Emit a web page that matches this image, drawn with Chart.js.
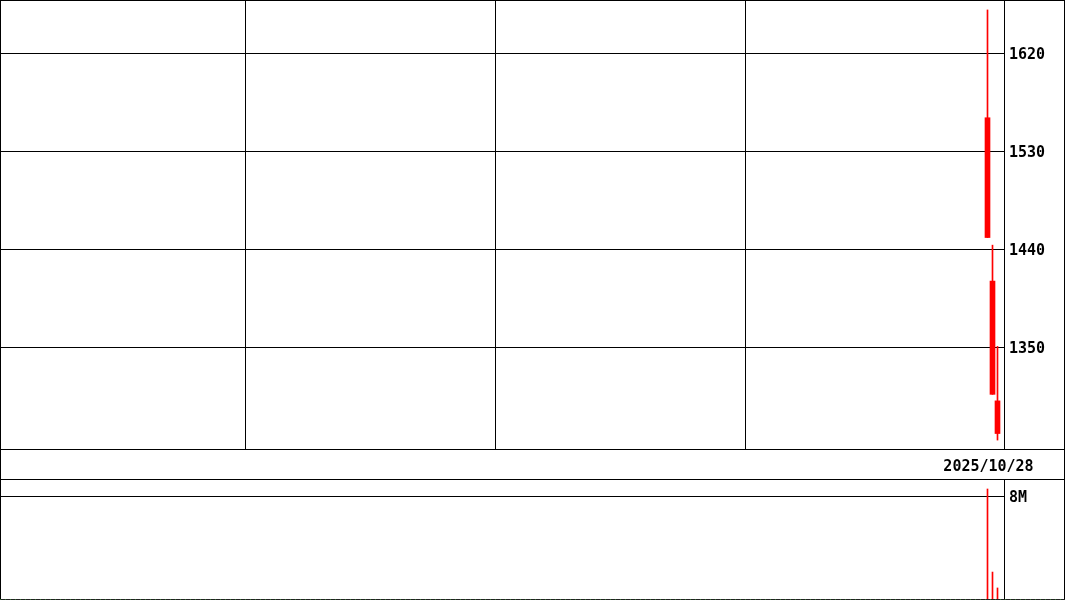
<!DOCTYPE html>
<html>
<head>
<meta charset="utf-8">
<script src="https://cdn.jsdelivr.net/npm/chart.js@4.4.1/dist/chart.umd.min.js"></script>
<style>
  body { margin: 0; background: #fff; }
  #wrap { position: relative; width: 1065px; height: 600px; background: #fff; overflow: hidden; }
  canvas { position: absolute; left: 0; }
  #priceChart { top: 0; }
  #volChart { top: 480px; }
  .ln { position: absolute; background: #000; z-index: 2; }
</style>
</head>
<body>
<div id="wrap">
  <canvas id="priceChart" width="1065" height="480"></canvas>
  <canvas id="volChart" width="1065" height="120"></canvas>
  <!-- frame lines -->
  <div class="ln" style="left:0;top:0;width:1065px;height:1px"></div>
  <div class="ln" style="left:0;top:0;width:1px;height:600px"></div>
  <div class="ln" style="left:1064px;top:0;width:1px;height:600px"></div>
  <div class="ln" style="left:0;top:449px;width:1065px;height:1px"></div>
  <div class="ln" style="left:0;top:479px;width:1065px;height:1px"></div>
  <div class="ln" style="left:0;top:599px;width:1065px;height:1px;background:repeating-linear-gradient(90deg,#2e6b2e 0 1px,#222 1px 5px)"></div>
</div>
<script>
// Data (one slot = one trading day)
const dates   = ['2025/10/28', '2025/10/29', '2025/10/30'];
const slots   = [197, 198, 199];
const opens   = [1561, 1411, 1301];
const highs   = [1660, 1444, 1351];
const lows    = [1451, 1307, 1265];
const closes  = [1451, 1307, 1271];
const volumes = [8580000, 2160000, 930000];

// Axis ticks
const priceTicks = [1350, 1440, 1530, 1620];
const volTicks   = [8000000];
const volLabels  = ['8M'];
const gridSlots  = [48.6, 98.6, 148.6];
const dateLabelSlot = 197;

// Config
const red = '#ff0000',
      black = '#000000',
      font = { family: 'DejaVu Sans Mono', size: 15, weight: 'bold' },
      xMin = -0.5, xMax = 200.3;

// No automatic label padding: the plot area has to fill the box exactly
function noPad(s) {
  s.paddingTop = 0; s.paddingBottom = 0; s.paddingLeft = 0; s.paddingRight = 0;
}

function xScale(showLabels) {
  return {
    type: 'linear',
    min: xMin, max: xMax,
    offset: false,
    display: showLabels,
    afterBuildTicks: (s) => {
      s.ticks = gridSlots.concat([dateLabelSlot]).map(v => ({ value: v }));
    },
    afterFit: (s) => { if (showLabels) s.height = 31; noPad(s); },
    grid: {
      offset: false,
      drawTicks: false,
      lineWidth: 1,
      color: (c) => (c.tick && c.tick.value === dateLabelSlot) ? 'rgba(0,0,0,0)' : black
    },
    border: { display: true, color: black },
    ticks: {
      autoSkip: false, maxRotation: 0, padding: 9, labelOffset: 1, color: black, font: font,
      callback: (v) => v === dateLabelSlot ? dates[slots.indexOf(v)] : ''
    }
  };
}

// Price chart (candles made of two floating bars: wick + body)
const priceChart = new Chart(document.getElementById('priceChart'), {
  type: 'bar',
  data: {
    datasets: [
      { label: 'wick',
        data: slots.map((x, i) => ({ x: x, y: [lows[i], highs[i]] })),
        backgroundColor: red, barThickness: 1, grouped: false, borderWidth: 0 },
      { label: 'body',
        data: slots.map((x, i) => ({ x: x, y: [closes[i], opens[i]] })),
        backgroundColor: red, barThickness: 5, grouped: false, borderWidth: 0 }
    ]
  },
  options: {
    responsive: false, animation: false, devicePixelRatio: 1,
    layout: { padding: 0 },
    plugins: { legend: { display: false }, tooltip: { enabled: false } },
    scales: {
      x: xScale(true),
      y: {
        position: 'right',
        min: 1256.8, max: 1669.13,
        afterBuildTicks: (s) => { s.ticks = priceTicks.map(v => ({ value: v })); },
        afterFit: (s) => { s.width = 61; noPad(s); },
        grid: { drawTicks: false, color: black, lineWidth: 1 },
        border: { display: true, color: black },
        ticks: { padding: 5, labelOffset: 2, color: black, font: font, callback: (v) => String(v) }
      }
    }
  }
});

// Volume chart
const volChart = new Chart(document.getElementById('volChart'), {
  type: 'bar',
  data: {
    datasets: [
      { label: 'volume',
        data: slots.map((x, i) => ({ x: x, y: volumes[i] })),
        backgroundColor: red, barThickness: 1, borderWidth: 0 }
    ]
  },
  options: {
    responsive: false, animation: false, devicePixelRatio: 1,
    layout: { padding: 0 },
    plugins: { legend: { display: false }, tooltip: { enabled: false } },
    scales: {
      x: xScale(false),
      y: {
        position: 'right',
        min: 0, max: 9275400,
        afterBuildTicks: (s) => { s.ticks = volTicks.map(v => ({ value: v })); },
        afterFit: (s) => { s.width = 61; noPad(s); },
        grid: { drawTicks: false, color: black, lineWidth: 1 },
        border: { display: true, color: black },
        ticks: { padding: 5, labelOffset: 2, color: black, font: font,
                 callback: (v) => volLabels[volTicks.indexOf(v)] }
      }
    }
  }
});
</script>
</body>
</html>
